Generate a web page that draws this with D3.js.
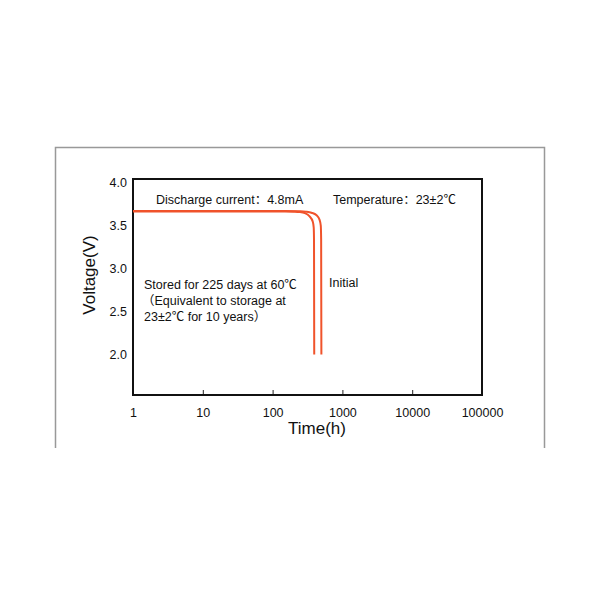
<!DOCTYPE html>
<html>
<head>
<meta charset="utf-8">
<script src="https://cdn.jsdelivr.net/npm/d3@7"></script>
<style>
  body { margin: 0; background: #fff; }
  text { font-family: "Liberation Sans", Arial, "Noto Sans CJK SC", sans-serif; fill: #111; }
</style>
</head>
<body>
<div id="chart"></div>
<script>
// time (h) / voltage (V)
let initialTime = [1, 150, 250, 300, 360, 427, 470, 490, 496, 500];
let initialVolt = [3.63, 3.63, 3.627, 3.622, 3.61, 3.58, 3.53, 3.46, 3.3, 1.97];
let storedTime = [1, 150, 200, 240, 290, 339, 375, 388, 392, 395];
let storedVolt = [3.625, 3.625, 3.622, 3.618, 3.605, 3.567, 3.51, 3.44, 3.3, 1.97];
let xTicks = [1, 10, 100, 1000, 10000, 100000];
let yTicks = [2.0, 2.5, 3.0, 3.5, 4.0];

var width = 600;
var height = 600;
var plot = { left: 133, right: 482, top: 179, bottom: 395 };

let svg = d3.select('#chart')
    .append('svg')
        .attr('width', width)
        .attr('height', height);

// outer frame (no bottom edge)
svg.append('path')
    .attr('d', 'M55.5,448 V147.5 H544.5 V448')
    .attr('fill', 'none')
    .attr('stroke', '#999')
    .attr('stroke-width', 1.5);

let xScale = d3.scaleLog()
    .domain([1, 100000])
    .range([plot.left, plot.right]);

let yScale = d3.scaleLinear()
    .domain([1.5, 4.0])
    .range([plot.bottom, plot.top]);

// x axis: small ticks pointing up, labels below
let xAxis = d3.axisBottom(xScale)
    .tickValues(xTicks)
    .tickFormat(d3.format('d'))
    .tickSizeInner(-5)
    .tickSizeOuter(0)
    .tickPadding(13);
let gx = svg.append('g')
    .attr('transform', 'translate(0,' + plot.bottom + ')')
    .call(xAxis);
gx.select('.domain').remove();
gx.selectAll('line').attr('stroke', '#222');
gx.selectAll('text').attr('font-size', 12.5).attr('fill', '#111');
gx.selectAll('.tick').filter(d => d === 1 || d === 100000).select('line').remove();

let yAxis = d3.axisLeft(yScale)
    .tickValues(yTicks)
    .tickFormat(d3.format('.1f'))
    .tickSize(0)
    .tickPadding(6);
let gy = svg.append('g')
    .attr('transform', 'translate(' + plot.left + ',3)')
    .call(yAxis);
gy.select('.domain').remove();
gy.selectAll('text').attr('font-size', 12.5).attr('fill', '#111');

// plot box
svg.append('rect')
    .attr('x', plot.left)
    .attr('y', plot.top)
    .attr('width', plot.right - plot.left)
    .attr('height', plot.bottom - plot.top)
    .attr('fill', 'none')
    .attr('stroke', '#111')
    .attr('stroke-width', 2);

// axis titles
svg.append('text')
    .attr('x', 317)
    .attr('y', 434)
    .attr('text-anchor', 'middle')
    .attr('font-size', 17)
    .text('Time(h)');

svg.append('text')
    .attr('transform', 'translate(95,275) rotate(-90)')
    .attr('text-anchor', 'middle')
    .attr('font-size', 17)
    .text('Voltage(V)');

let line = d3.line()
    .x(d => xScale(d[0]))
    .y(d => yScale(d[1]))
    .curve(d3.curveMonotoneX);

let series = [
    d3.zip(initialTime, initialVolt),
    d3.zip(storedTime, storedVolt)
];

svg.selectAll('.curve')
    .data(series)
    .enter()
    .append('path')
    .attr('class', 'curve')
    .attr('d', line)
    .attr('fill', 'none')
    .attr('stroke', '#f0532b')
    .attr('stroke-width', 2);

// annotations
let notes = [
    { x: 156, y: 204, t: 'Discharge current：4.8mA' },
    { x: 333, y: 204, t: 'Temperature：23±2℃' },
    { x: 329, y: 287, t: 'Initial' },
    { x: 144, y: 289, t: 'Stored for 225 days at 60℃' },
    { x: 142, y: 305, t: '（Equivalent to storage at' },
    { x: 144, y: 321, t: '23±2℃ for 10 years）' }
];
svg.selectAll('.note')
    .data(notes)
    .enter()
    .append('text')
    .attr('class', 'note')
    .attr('x', d => d.x)
    .attr('y', d => d.y)
    .attr('font-size', 12.5)
    .text(d => d.t);
</script>
</body>
</html>
